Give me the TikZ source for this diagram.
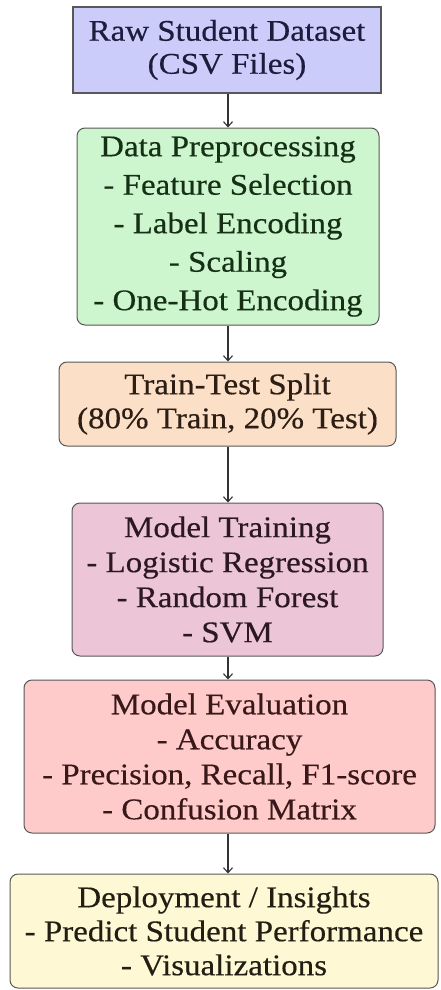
\documentclass[tikz,border=0pt]{standalone}
\usepackage{fontspec}
\setmainfont{Liberation Serif}[FakeStretch=1.1,FakeBold=0.4]
\usetikzlibrary{arrows.meta}
\definecolor{fillA}{RGB}{204,204,250}
\definecolor{fillB}{RGB}{206,246,206}
\definecolor{fillC}{RGB}{251,223,198}
\definecolor{fillD}{RGB}{236,198,214}
\definecolor{fillE}{RGB}{255,202,202}
\definecolor{fillF}{RGB}{255,248,212}
\definecolor{edgecol}{RGB}{88,88,88}
\definecolor{txtA}{RGB}{28,28,60}
\definecolor{txtB}{RGB}{22,48,22}
\definecolor{txtC}{RGB}{44,30,20}
\definecolor{txtD}{RGB}{44,24,32}
\definecolor{txtE}{RGB}{56,24,24}
\definecolor{txtF}{RGB}{34,30,20}
\tikzset{
  flowbox/.style={draw=edgecol, line width=1pt, rounded corners=8pt, inner sep=0pt, align=center},
  sqbox/.style={draw=edgecol, line width=1.2pt, inner sep=0pt, align=center},
  arr/.style={draw=black!80, line width=1.1pt, -{Straight Barb[length=5pt,width=9pt]}}
}
\newcommand{\boxfont}[1]{\fontsize{30}{#1}\selectfont}
\begin{document}
\begin{tikzpicture}[x=1pt,y=1pt]
\useasboundingbox[fill=white] (0,0) rectangle (440,-990);
\coordinate (ax) at (228,0);
\node[sqbox, fill=fillA, text=txtA, minimum width=308pt, minimum height=86pt, font=\boxfont{33pt}] (b1) at (227,-50)
  {Raw Student Dataset\\(CSV Files)};
\node[flowbox, fill=fillB, text=txtB, minimum width=302pt, minimum height=197pt, font=\boxfont{38.5pt}] (b2) at (228,-226.5)
  {Data Preprocessing\\- Feature Selection\\- Label Encoding\\- Scaling\\- One-Hot Encoding};
\node[flowbox, fill=fillC, text=txtC, minimum width=337pt, minimum height=84pt, font=\boxfont{34pt}] (b3) at (227.5,-404)
  {Train-Test Split\\(80\% Train, 20\% Test)};
\node[flowbox, fill=fillD, text=txtD, minimum width=311pt, minimum height=153pt, font=\boxfont{35pt}] (b4) at (227.5,-579.5)
  {Model Training\\- Logistic Regression\\- Random Forest\\- SVM};
\node[flowbox, fill=fillE, text=txtE, minimum width=411pt, minimum height=153pt, font=\boxfont{35pt}] (b5) at (229.5,-756.5)
  {Model Evaluation\\- Accuracy\\- Precision, Recall, F1-score\\- Confusion Matrix};
\node[flowbox, fill=fillF, text=txtF, minimum width=428pt, minimum height=114pt, font=\boxfont{34pt}] (b6) at (224,-931)
  {Deployment / Insights\\- Predict Student Performance\\- Visualizations};
\draw[arr] (b1.south -| ax) -- (b2.north -| ax);
\draw[arr] (b2.south -| ax) -- (b3.north -| ax);
\draw[arr] (b3.south -| ax) -- (b4.north -| ax);
\draw[arr] (b4.south -| ax) -- (b5.north -| ax);
\draw[arr] (b5.south -| ax) -- (b6.north -| ax);
\end{tikzpicture}
\end{document}
